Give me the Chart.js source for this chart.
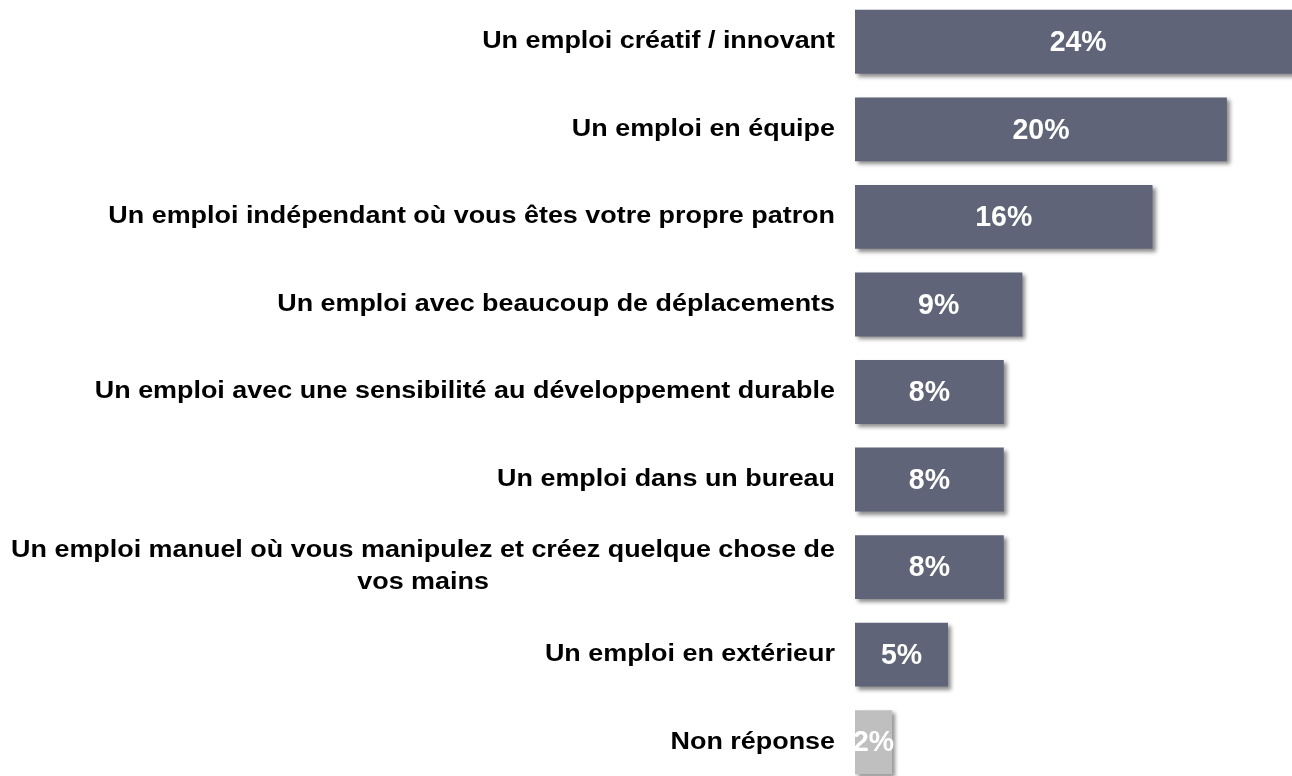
<!DOCTYPE html>
<html><head><meta charset="utf-8">
<script src="https://cdn.jsdelivr.net/npm/chart.js@4"></script>
<style>
html,body{margin:0;padding:0;background:#fff;overflow:hidden;}
#wrap{position:absolute;left:0;top:-2px;width:1292px;height:788px;}
</style></head>
<body><div id="wrap"><canvas id="c" width="1292" height="788"></canvas></div>
<script>
const categories = [
  ["Un emploi créatif / innovant"],
  ["Un emploi en équipe"],
  ["Un emploi indépendant où vous êtes votre propre patron"],
  ["Un emploi avec beaucoup de déplacements"],
  ["Un emploi avec une sensibilité au développement durable"],
  ["Un emploi dans un bureau"],
  ["Un emploi manuel où vous manipulez et créez quelque chose de", "vos mains"],
  ["Un emploi en extérieur"],
  ["Non réponse"]
];
const values = [24, 20, 16, 9, 8, 8, 8, 5, 2];
const valueLabels = ["24%", "20%", "16%", "9%", "8%", "8%", "8%", "5%", "2%"];
const barColors = ["#5f6478","#5f6478","#5f6478","#5f6478","#5f6478","#5f6478","#5f6478","#5f6478","#bfbfbf"];

const FONT = '"Liberation Sans", Arial, sans-serif';
const LABEL_STRETCH = 1.17;
const VALUE_STRETCH = 0.95;

const shadowPlugin = {
  id: 'shadow',
  beforeDatasetsDraw(chart) {
    const ctx = chart.ctx;
    ctx.save();
    ctx.shadowColor = 'rgba(0,0,0,0.45)';
    ctx.shadowBlur = 4;
    ctx.shadowOffsetX = 3;
    ctx.shadowOffsetY = 3;
  },
  afterDatasetsDraw(chart) {
    chart.ctx.restore();
  }
};

function stretchedText(ctx, txt, x, y, sx) {
  ctx.save();
  ctx.translate(x, y);
  ctx.scale(sx, 1);
  ctx.fillText(txt, 0, 0);
  ctx.restore();
}

const labelPlugin = {
  id: 'labels',
  afterDraw(chart) {
    const ctx = chart.ctx;
    const area = chart.chartArea;
    const yScale = chart.scales.y;
    const meta = chart.getDatasetMeta(0);
    ctx.save();
    ctx.fillStyle = '#000';
    ctx.font = 'bold 23px ' + FONT;
    ctx.textBaseline = 'middle';
    const rightX = area.left - 20;
    const lh = 32;
    categories.forEach((lines, i) => {
      const yc = yScale.getPixelForValue(i);
      const n = lines.length;
      if (n === 1) {
        ctx.textAlign = 'right';
        stretchedText(ctx, lines[0], rightX, yc, LABEL_STRETCH);
      } else {
        const w = ctx.measureText(lines[0]).width * LABEL_STRETCH;
        const cx = rightX - w / 2;
        ctx.textAlign = 'center';
        lines.forEach((ln, k) => {
          stretchedText(ctx, ln, cx, yc + (k - (n - 1) / 2) * lh, LABEL_STRETCH);
        });
      }
    });
    ctx.fillStyle = '#fff';
    ctx.font = 'bold 30px ' + FONT;
    ctx.textAlign = 'center';
    meta.data.forEach((bar, i) => {
      stretchedText(ctx, valueLabels[i], (bar.base + bar.x) / 2, bar.y + 1, VALUE_STRETCH);
    });
    ctx.restore();
  }
};

new Chart(document.getElementById('c'), {
  type: 'bar',
  data: {
    labels: categories,
    datasets: [{
      data: values,
      backgroundColor: barColors,
      borderWidth: 0,
      categoryPercentage: 0.73,
      barPercentage: 1
    }]
  },
  options: {
    indexAxis: 'y',
    responsive: false,
    animation: false,
    devicePixelRatio: 1,
    layout: { padding: 0 },
    plugins: { legend: { display: false }, tooltip: { enabled: false } },
    scales: {
      x: {
        min: 0, max: 23.5,
        display: false,
        grid: { display: false }
      },
      y: {
        grid: { display: false },
        border: { display: false },
        ticks: { display: false },
        afterFit(scale) { scale.width = 855; }
      }
    }
  },
  plugins: [shadowPlugin, labelPlugin]
});
</script>
</body></html>
